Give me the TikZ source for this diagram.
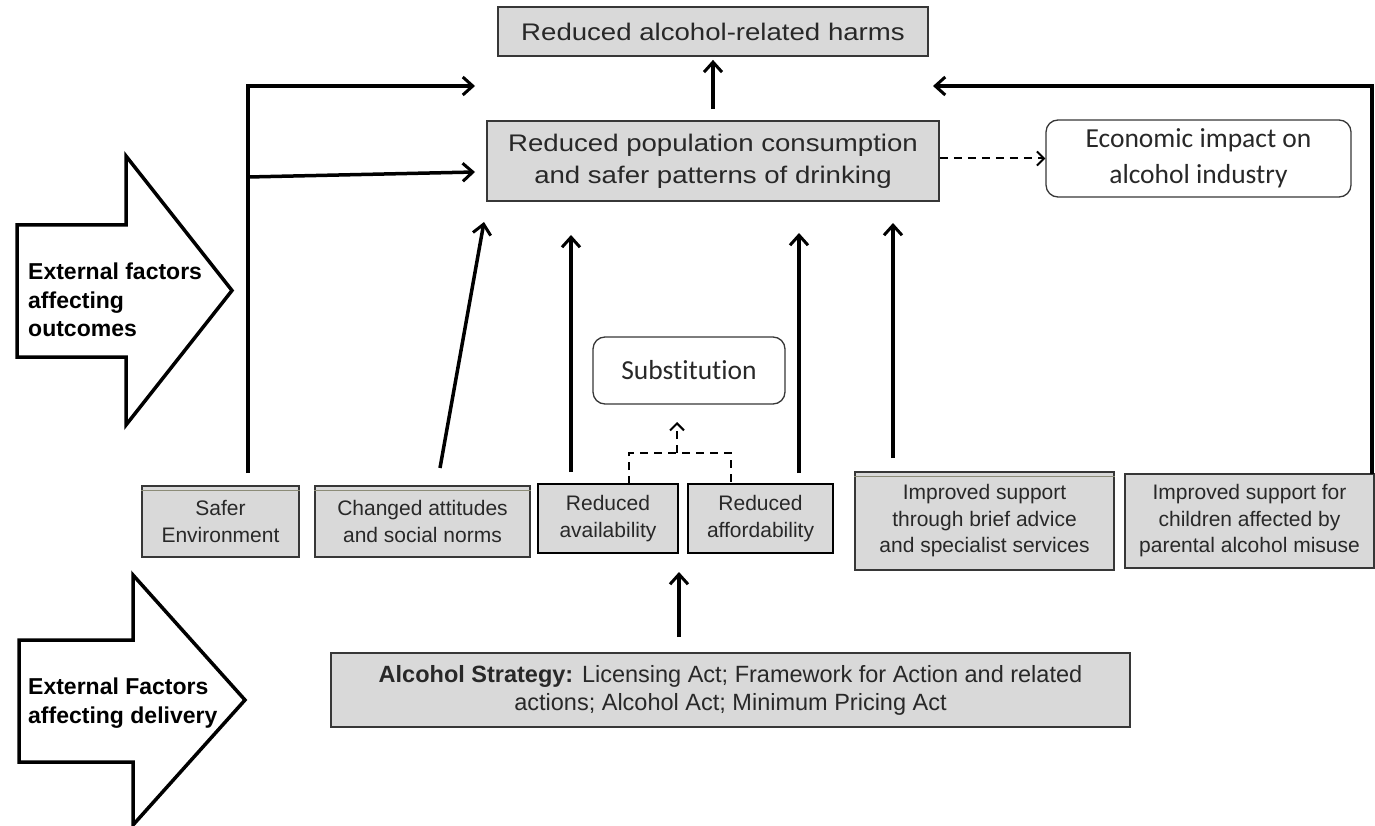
\documentclass[tikz,border=0pt]{standalone}
\usepackage{fontspec}
\setmainfont{Liberation Sans}
\newfontfamily\widesans[FakeStretch=1.15]{Liberation Sans}
\newfontfamily\calsans[Ligatures=NoCommon]{Carlito}
\usetikzlibrary{arrows.meta}
\definecolor{boxgray}{RGB}{217,217,217}
\definecolor{edgegray}{RGB}{55,55,55}
\definecolor{txtgray}{RGB}{40,40,40}
\definecolor{olivegray}{RGB}{140,140,120}
\begin{document}
\begin{tikzpicture}[x=1pt,y=-1pt,
  graybox/.style={draw=edgegray, line width=1.8pt, fill=boxgray, inner sep=0pt, align=center, text=txtgray},
  darkbox/.style={graybox, draw=black, line width=2.4pt},
  roundbox/.style={draw=edgegray, line width=1.3pt, rounded corners=12pt, fill=white, inner sep=0pt, align=center, text=txtgray, font=\calsans\fontsize{27.5}{36}\selectfont},
  smalltxt/.style={font=\fontsize{21}{26.5}\selectfont},
  bigtxt/.style={font=\widesans\fontsize{24}{32}\selectfont},
  extlabel/.style={anchor=west, align=left, inner sep=0pt, font=\bfseries\fontsize{23}{28.5}\selectfont},
  thickarrow/.style={line width=3.5pt, line join=miter, -{Straight Barb[length=10pt,width=18pt,line width=3pt]}},
  dasharrow/.style={line width=2pt, dash pattern=on 8pt off 6pt, -{Straight Barb[length=7pt,width=14pt,line width=2pt]}},
  dashline/.style={line width=2pt, dash pattern=on 8pt off 6pt},
  bigarrowshape/.style={draw=black, line width=3.5pt, fill=white, line join=miter},
  secondline/.style={draw=olivegray, line width=1pt}
]
\useasboundingbox (0,0) rectangle (1375,826);

% big block arrows
\draw[bigarrowshape] (17,225) -- (126,225) -- (126,156) -- (232,290.5) -- (126,425) -- (126,357) -- (17,357) -- cycle;
\draw[bigarrowshape] (19,640) -- (133,640) -- (133,575) -- (245,700) -- (133,825) -- (133,762) -- (19,762) -- cycle;
\node[extlabel] (extout) at (28,300) {External factors\\affecting\\outcomes};
\node[extlabel] (extdel) at (28,703) {External Factors\\affecting delivery};

% boxes
\node[graybox, bigtxt, minimum width=430pt, minimum height=49pt] (harms) at (713,31.5) {Reduced alcohol-related harms};
\node[graybox, bigtxt, minimum width=452pt, minimum height=80pt] (cons) at (713,161) {Reduced population consumption\\and safer patterns of drinking};
\node[roundbox, minimum width=305pt, minimum height=77pt] (econ) at (1198.5,158.5) {Economic impact on\\alcohol industry};
\node[roundbox, minimum width=192pt, minimum height=67pt] (subst) at (689,370.5) {Substitution};

\node[graybox, smalltxt, minimum width=157pt, minimum height=71pt] (safer) at (220.5,521.5) {Safer\\Environment};
\node[graybox, smalltxt, minimum width=215pt, minimum height=71pt] (attit) at (422.5,521.5) {Changed attitudes\\and social norms};
\node[darkbox, smalltxt, minimum width=140pt, minimum height=69pt] (avail) at (608,518.5) {Reduced\\availability};
\node[darkbox, smalltxt, minimum width=145pt, minimum height=69pt] (afford) at (760.5,518.5) {Reduced\\affordability};
\node[graybox, smalltxt, minimum width=259pt, minimum height=98pt] (brief) at (984.5,521) {Improved support\\through brief advice\\and specialist services};
\node[graybox, smalltxt, minimum width=249pt, minimum height=94pt] (child) at (1249.5,521) {Improved support for\\children affected by\\parental alcohol misuse};
\node[graybox, font=\fontsize{23.5}{28}\selectfont, minimum width=799pt, minimum height=74pt] (strat) at (730.5,690) {\textbf{Alcohol Strategy:} Licensing Act; Framework for Action and related\\actions; Alcohol Act; Minimum Pricing Act};

% double top lines
\draw[secondline] ([yshift=-5pt]safer.north west) -- ([yshift=-5pt]safer.north east);
\draw[secondline] ([yshift=-5pt]attit.north west) -- ([yshift=-5pt]attit.north east);
\draw[secondline] ([yshift=-5pt]brief.north west) -- ([yshift=-5pt]brief.north east);

% coordinates for connector ends
\coordinate (lfoot) at (248,473);
\coordinate (lcorner) at (248,86);
\coordinate (lend) at (475,86);
\coordinate (lbranch) at (248,177);
\coordinate (lbranchend) at (475,172);
\coordinate (attfoot) at (440,468);
\coordinate (atthead) at (484,222);
\coordinate (avfoot) at (571,472);
\coordinate (avhead) at (571,235);
\coordinate (affoot) at (799,473);
\coordinate (afhead) at (799,233);
\coordinate (brfoot) at (893,458);
\coordinate (brhead) at (893,223);
\coordinate (rfoot) at (1372,474);
\coordinate (rcorner) at (1372,86);
\coordinate (rend) at (933,86);
\coordinate (bkl) at (629,484);
\coordinate (bkltop) at (629,453);
\coordinate (bkrtop) at (731,453);
\coordinate (bkr) at (731,484);
\coordinate (bkmid) at (677,453);
\coordinate (bkhead) at (677,422);
\coordinate (stfoot) at (679,637);
\coordinate (sthead) at (679,572);

% connectors
\draw[thickarrow, line width=4pt] (lfoot) -- (lcorner) -- (lend);
\draw[thickarrow] (lbranch) -- (lbranchend);
\draw[thickarrow] (attfoot) -- (atthead);
\draw[thickarrow] (avfoot) -- (avhead);
\draw[thickarrow] (affoot) -- (afhead);
\draw[thickarrow] (brfoot) -- (brhead);
\draw[thickarrow, line width=4.5pt] (rfoot) -- (rcorner) -- (rend);
\draw[thickarrow, shorten <=11pt, shorten >=3pt] (cons) -- (harms);
\draw[dasharrow] (cons.east |- econ.west) -- (econ.west);
\draw[dashline] (bkl) -- (bkltop) -- (bkrtop) -- (bkr);
\draw[dasharrow] (bkmid) -- (bkhead);
\draw[thickarrow] (stfoot) -- (sthead);
\end{tikzpicture}
\end{document}
